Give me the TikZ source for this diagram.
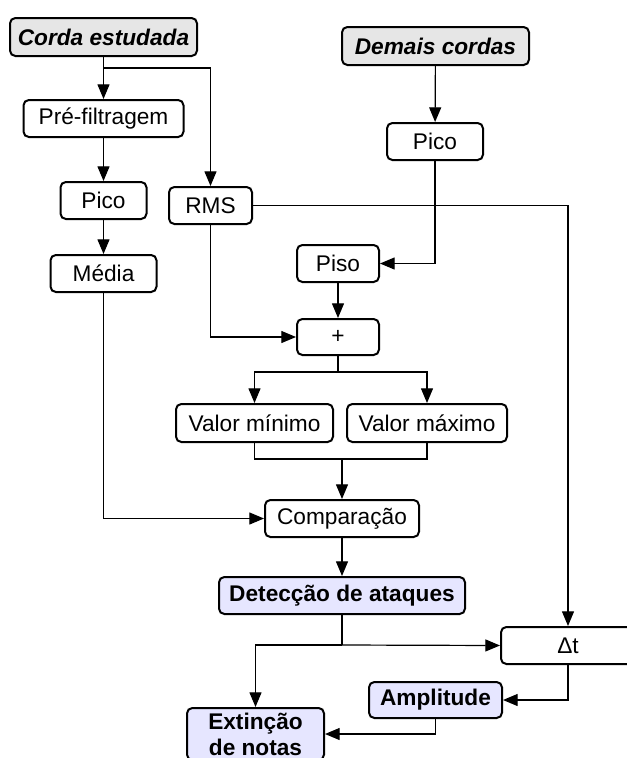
\documentclass[tikz,border=0pt]{standalone}
\usepackage{fontspec}
\setmainfont{Liberation Sans}
\usetikzlibrary{arrows.meta}
\definecolor{grayfill}{HTML}{E6E6E6}
\definecolor{lavfill}{HTML}{E6E6FF}
\tikzset{
  box/.style={draw, line width=1.5pt, rounded corners=4pt, fill=white, inner sep=0pt,
    font=\fontsize{17}{19.5}\selectfont, align=center},
  srcbox/.style={box, fill=grayfill, font=\fontsize{17}{19.5}\selectfont\bfseries\itshape},
  outbox/.style={box, fill=lavfill, font=\fontsize{17}{19.5}\selectfont\bfseries},
  conn/.style={line width=0.9pt},
  arr/.style={conn, -{Triangle[length=11pt,width=9pt]}}
}
\begin{document}
\begin{tikzpicture}[x=0.75pt,y=-0.75pt]
\clip (0,0) rectangle (627,758);
\fill[white] (0,0) rectangle (627,758);
% nodes
\node[srcbox, minimum width=187*0.75pt, minimum height=38*0.75pt] (corda) at (103.5,37) {Corda estudada};
\node[srcbox, minimum width=187*0.75pt, minimum height=38*0.75pt] (demais) at (435.5,46) {Demais cordas};
\node[box, minimum width=160*0.75pt, minimum height=37*0.75pt] (pref) at (103.5,118.5) {Pré-filtragem};
\node[box, minimum width=86*0.75pt, minimum height=37*0.75pt] (pico1) at (103.5,200.5) {Pico};
\node[box, minimum width=83*0.75pt, minimum height=37*0.75pt] (rms) at (210.5,205.5) {RMS};
\node[box, minimum width=106*0.75pt, minimum height=37*0.75pt] (media) at (103.5,273.5) {Média};
\node[box, minimum width=96*0.75pt, minimum height=37*0.75pt] (pico2) at (435,141.5) {Pico};
\node[box, minimum width=82*0.75pt, minimum height=37*0.75pt] (piso) at (338,263.5) {Piso};
\node[box, minimum width=82*0.75pt, minimum height=36*0.75pt] (plus) at (338,337) {+};
\node[box, minimum width=157*0.75pt, minimum height=38*0.75pt] (vmin) at (254.5,423) {Valor mínimo};
\node[box, minimum width=160*0.75pt, minimum height=38*0.75pt] (vmax) at (427,423) {Valor máximo};
\node[box, minimum width=154*0.75pt, minimum height=37*0.75pt] (comp) at (342,518.5) {Comparação};
\node[outbox, minimum width=246*0.75pt, minimum height=37*0.75pt] (det) at (342,595.5) {Detecção de ataques};
\node[box, minimum width=134*0.75pt, minimum height=37*0.75pt] (dt) at (568,645.5) {Δt};
\node[outbox, minimum width=133*0.75pt, minimum height=36*0.75pt] (amp) at (435.5,700) {Amplitude};
\node[outbox, minimum width=137*0.75pt, minimum height=52*0.75pt] (ext) at (255.5,734) {Extinção\\de notas};
% junction coordinates
\coordinate (j1) at (103.5,68);
\coordinate (j2) at (338,372);
\coordinate (j3) at (342,459);
\coordinate (j4) at (342,645);
% connectors
\draw[arr] (corda) -- (pref);
\draw[arr] (j1) -| (rms.north);
\draw[arr] (pref) -- (pico1);
\draw[arr] (pico1) -- (media);
\draw[arr] (media.south) |- (comp.west);
\draw[arr] (rms.south) |- (plus.west);
\draw[arr] (rms.east) -| (dt.north);
\draw[arr] (demais) -- (pico2);
\draw[arr] (pico2.south) |- (piso.east);
\draw[arr] (piso) -- (plus);
\draw[conn] (plus.south) -- (j2);
\draw[arr] (j2) -| (vmin.north);
\draw[arr] (j2) -| (vmax.north);
\draw[conn] (vmin.south) |- (j3) -| (vmax.south);
\draw[arr] (j3) -- (comp.north);
\draw[arr] (comp) -- (det);
\draw[conn] (det.south) -- (j4);
\draw[arr] (j4) -- (dt.west);
\draw[arr] (j4) -| (ext.north);
\draw[arr] (dt.south) |- (amp.east);
\draw[arr] (amp.south) |- (ext.east);
\end{tikzpicture}
\end{document}
